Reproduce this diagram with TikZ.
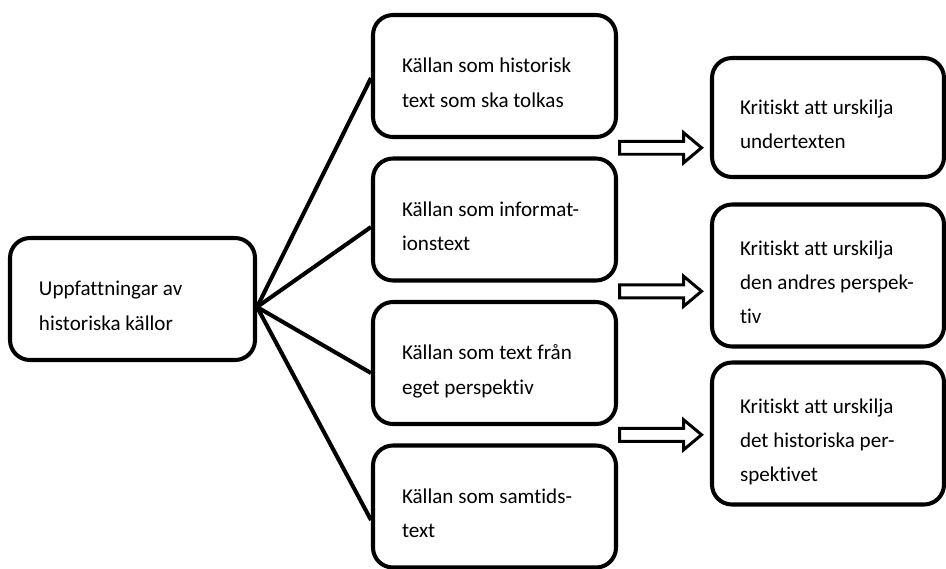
\documentclass[tikz,border=0pt]{standalone}
\usepackage{fontspec}
\setmainfont{Carlito}[Ligatures=NoCommon]
\usetikzlibrary{shapes.arrows,calc}

\tikzstyle{block} = [draw, rectangle, rounded corners=0.4cm, line width=2.3pt,
                     align=flush left, inner xsep=0.58cm, inner ysep=0.1cm,
                     execute at begin node={\rule{0pt}{0.71cm}},
                     execute at end node={\rule[-0.15cm]{0pt}{0.15cm}}]
\tikzstyle{link} = [line width=2.3pt]
\tikzstyle{fat} = [draw, single arrow, line width=1.7pt, inner xsep=0pt,
                   inner ysep=0.1cm, minimum height=1.64cm,
                   single arrow head extend=0.17cm, single arrow tip angle=80]

\begin{document}
\begin{tikzpicture} [auto, node distance=2.87cm,
                     font=\fontsize{12pt}{19.6pt}\selectfont]

\def\colK{black};
\def\fillK{white};

\path[use as bounding box, fill=\fillK] (0,0) rectangle (18.92,-11.36);

% source views
\node at (2.65,-5.98)[block,draw=\colK,fill=\fillK,
                      text width=3.74cm,minimum height=2.44cm]
      (L) {Uppfattningar av\\historiska källor};

\node at (9.89,-1.52)[block,draw=\colK,fill=\fillK,
                      text width=3.70cm,minimum height=2.44cm]
      (M1) {Källan som historisk\\text som ska tolkas};

\node[block,below of=M1,draw=\colK,fill=\fillK,
      text width=3.70cm,minimum height=2.44cm]
      (M2) {Källan som informat-\\ionstext};

\node[block,below of=M2,draw=\colK,fill=\fillK,
      text width=3.70cm,minimum height=2.44cm]
      (M3) {Källan som text från\\eget perspektiv};

\node[block,below of=M3,draw=\colK,fill=\fillK,
      text width=3.70cm,minimum height=2.44cm]
      (M4) {Källan som samtids-\\text};

% critical aspects
\node at (16.56,-2.35)[block,draw=\colK,fill=\fillK,
                       inner xsep=0.56cm,
                       text width=3.52cm,minimum height=2.38cm]
      (R1) {Kritiskt att urskilja\\undertexten};

\node[block,below of=R1,node distance=3.16cm,
      draw=\colK,fill=\fillK,inner xsep=0.56cm,
      text width=3.52cm,minimum height=2.84cm]
      (R2) {Kritiskt att urskilja\\den andres perspek-\\tiv};

\node[block,below of=R2,node distance=3.16cm,
      draw=\colK,fill=\fillK,inner xsep=0.56cm,
      text width=3.52cm,minimum height=2.84cm]
      (R3) {Kritiskt att urskilja\\det historiska per-\\spektivet};

% fan of links
\coordinate (H) at ([yshift=-0.16cm]L.east);

\draw[link,\colK] (H) -- ([yshift=-0.04cm]M1.west);
\draw[link,\colK] (H) -- ([yshift=-0.15cm]M2.west);
\draw[link,\colK] (H) -- ([yshift=-0.20cm]M3.west);
\draw[link,\colK] (H) -- ([yshift=-0.27cm]M4.west);

% block arrows
\node[fat,draw=\colK,fill=\fillK,anchor=west]
      (A1) at ($(M1.south east)!0.5!(M2.north east)$) {};
\node[fat,draw=\colK,fill=\fillK,anchor=west]
      (A2) at ($(M2.south east)!0.5!(M3.north east)$) {};
\node[fat,draw=\colK,fill=\fillK,anchor=west]
      (A3) at ($(M3.south east)!0.5!(M4.north east)$) {};

\end{tikzpicture}
\end{document}
